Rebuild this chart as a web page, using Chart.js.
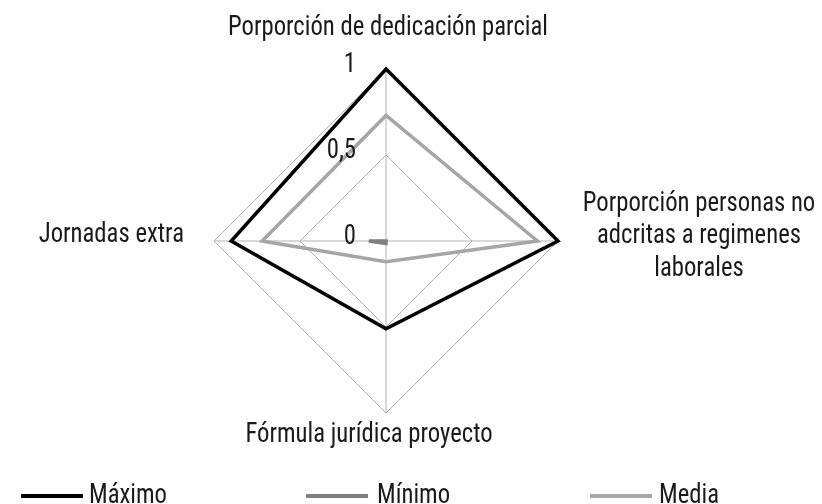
<!DOCTYPE html>
<html>
<head>
<meta charset="utf-8">
<script src="https://cdn.jsdelivr.net/npm/chart.js@4/dist/chart.umd.min.js"></script>
<style>
  html, body { margin: 0; padding: 0; background: #fff; }
  #wrap { position: relative; width: 822px; height: 504px; }
</style>
</head>
<body>
<div id="wrap"><canvas id="c"></canvas></div>
<script>
const categories = [
  ["Porporción de dedicación parcial"],
  ["Porporción personas no", "adcritas a regimenes", "laborales"],
  ["Fórmula jurídica proyecto"],
  ["Jornadas extra"]
];
const maximo = [1.0, 1.0, 0.51, 0.90];
const minimo = [0.0, 0.0, 0.015, 0.10];
const media  = [0.73, 0.88, 0.12, 0.72];
const tickValues = [0, 0.5, 1];
const tickLabels = ["0", "0,5", "1"];
const seriesNames = ["Máximo", "Mínimo", "Media"];
const seriesColors = ["#000000", "#808080", "#a6a6a6"];

const FONT = '"Liberation Sans Narrow", "Arial Narrow", "Roboto Condensed", Roboto, sans-serif';
const TXT = '#1a1a1a';
const SX = 0.915;

function txt(ctx, t, x, y, align) {
  ctx.save();
  ctx.translate(x, y);
  ctx.scale(SX, 1);
  ctx.textAlign = align;
  ctx.fillText(t, 0, 0);
  ctx.restore();
}

const overlay = {
  id: 'overlay',
  afterDraw(chart) {
    const ctx = chart.ctx;
    const s = chart.scales.r;
    const cx = s.xCenter, cy = s.yCenter;
    ctx.save();
    ctx.fillStyle = TXT;
    ctx.font = '27px ' + FONT;
    ctx.textBaseline = 'alphabetic';
    // tick labels
    tickValues.forEach((v, i) => {
      const d = s.getDistanceFromCenterForValue(v);
      txt(ctx, tickLabels[i], cx - 30, cy - d + 3, 'right');
    });
    // point labels
    const lh = 32.5;
    categories.forEach((lines, i) => {
      const p = s.getPointPositionForValue(i, s.max);
      if (i === 0) {
        txt(ctx, lines[0], p.x + 2, p.y - 34, 'center');
      } else if (i === 1) {
        lines.forEach((t, k) => txt(ctx, t, p.x + 141, p.y + 2 + (k - 1) * lh, 'center'));
      } else if (i === 2) {
        txt(ctx, lines[0], p.x - 17, p.y + 29, 'center');
      } else {
        txt(ctx, lines[0], p.x - 30, p.y + 1, 'right');
      }
    });
    // legend
    const starts = [21, 306, 590];
    const gaps = [6, 9, 7];
    chart.data.datasets.forEach((ds, i) => {
      const x0 = starts[i];
      ctx.strokeStyle = ds.borderColor;
      ctx.lineWidth = 4;
      ctx.lineCap = 'butt';
      ctx.beginPath();
      ctx.moveTo(x0, 496);
      ctx.lineTo(x0 + 62, 496);
      ctx.stroke();
      ctx.fillStyle = TXT;
      txt(ctx, ds.label, x0 + 62 + gaps[i], 503, 'left');
    });
    ctx.restore();
  }
};

const seriesData = [maximo, minimo, media];
new Chart(document.getElementById('c'), {
  type: 'radar',
  data: {
    labels: categories,
    datasets: seriesData.map((d, i) => ({
      label: seriesNames[i],
      data: d,
      borderColor: seriesColors[i],
      backgroundColor: 'transparent',
      borderWidth: 3.5,
      pointRadius: 0,
      pointHoverRadius: 0,
      fill: false,
      tension: 0,
      borderJoinStyle: 'miter'
    }))
  },
  options: {
    responsive: true,
    maintainAspectRatio: false,
    animation: false,
    events: [],
    layout: { padding: { left: 0, right: 50, top: 69, bottom: 91 } },
    plugins: { legend: { display: false }, tooltip: { enabled: false } },
    scales: {
      r: {
        min: 0,
        max: 1,
        startAngle: 0,
        ticks: { display: false, stepSize: 0.5 },
        pointLabels: { display: false },
        grid: { color: '#b3b3b3', lineWidth: 1 },
        angleLines: { color: '#b3b3b3', lineWidth: 1 }
      }
    }
  },
  plugins: [overlay]
});
</script>
</body>
</html>
